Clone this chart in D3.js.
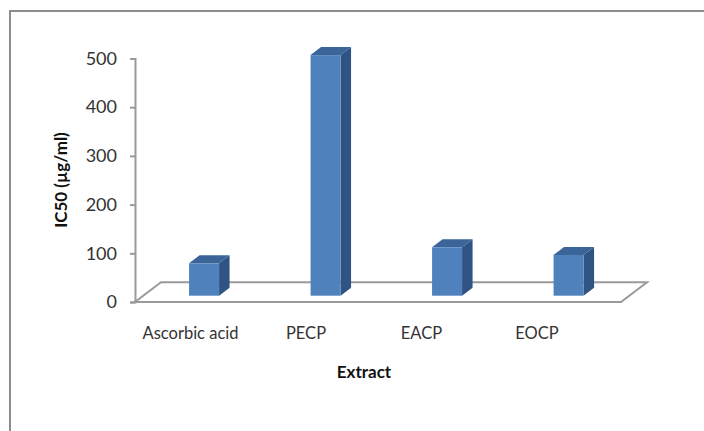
<!DOCTYPE html>
<html>
<head>
<meta charset="utf-8">
<script src="https://cdn.jsdelivr.net/npm/d3@7"></script>
<style>
  html, body { margin: 0; padding: 0; background: #fff; }
  svg { display: block; font-family: Lato, "Open Sans", sans-serif; }
</style>
</head>
<body>
<svg id="chart" width="704" height="431"></svg>
<script>
// IC50 values per extract
const categories = ["Ascorbic acid", "PECP", "EACP", "EOCP"];
const ic50 = [66.5, 494, 99.4, 83.6];
const yTicks = [0, 100, 200, 300, 400, 500];

const svg = d3.select("#chart");

// chart frame
svg.append("rect")
  .attr("x", 10).attr("y", 11)
  .attr("width", 720).attr("height", 440)
  .attr("fill", "none").attr("stroke", "#8c8c8c").attr("stroke-width", 2);

// plot geometry (front plane of the floor and oblique depth)
const plotLeft = 135, plotRight = 621, plotBase = 302, plotTop = 58.5;
const depthX = 26, depthY = 19.7;     // floor depth offset
const barDepth = 0.32;                // bars sit this far back on the floor
const sideX = 10.5, sideY = 8;        // bar thickness offset

const x = d3.scaleBand().domain(categories).range([plotLeft, plotRight]);
const y = d3.scaleLinear().domain([0, 500]).range([plotBase, plotTop]);
const labelX = d3.scalePoint().domain(categories).range([190.5, 537]);

// floor
const floorPts = [[plotLeft, plotBase], [plotRight, plotBase],
  [plotRight + depthX, plotBase - depthY], [plotLeft + depthX, plotBase - depthY]];
svg.append("polygon")
  .attr("points", floorPts.map(p => p.join(",")).join(" "))
  .attr("fill", "none").attr("stroke", "#9a9a9a").attr("stroke-width", 2);

// value axis
const yAxis = svg.append("g")
  .attr("transform", `translate(${plotLeft},0)`)
  .call(d3.axisLeft(y).tickValues(yTicks).tickSize(5).tickPadding(13).tickFormat(d3.format("d")));
yAxis.select(".domain").attr("stroke", "#9a9a9a").attr("stroke-width", 2);
yAxis.selectAll(".tick line").attr("stroke", "#9a9a9a").attr("stroke-width", 2);
yAxis.selectAll(".tick text")
  .attr("fill", "#333").attr("font-size", 18).attr("font-family", "Lato, sans-serif");

// bars
const offX = barDepth * depthX, offY = barDepth * depthY;
const barW = 30;
const bars = svg.append("g").selectAll("g").data(categories.map((c, i) => ({ c, v: ic50[i] })))
  .join("g");
bars.each(function(d) {
  const g = d3.select(this);
  const x0 = x(d.c) + x.bandwidth() / 2 - barW / 2 + offX;
  const x1 = x0 + barW;
  const yb = y(0) - offY;
  const yt = y(d.v) - offY;
  // side face
  g.append("polygon")
    .attr("points", [[x1, yb], [x1 + sideX, yb - sideY], [x1 + sideX, yt - sideY], [x1, yt]].map(p => p.join(",")).join(" "))
    .attr("fill", "#2f5383");
  // top face
  g.append("polygon")
    .attr("points", [[x0, yt], [x1, yt], [x1 + sideX, yt - sideY], [x0 + sideX, yt - sideY]].map(p => p.join(",")).join(" "))
    .attr("fill", "#3b6498");
  // front face
  g.append("rect")
    .attr("x", x0).attr("y", yt).attr("width", barW).attr("height", yb - yt)
    .attr("fill", "#4f81bd");
});

// category labels
svg.append("g").selectAll("text").data(categories).join("text")
  .attr("x", d => labelX(d)).attr("y", 339)
  .attr("text-anchor", "middle")
  .attr("font-size", 16.5).attr("fill", "#333")
  .text(d => d);

// axis titles
svg.append("text")
  .attr("x", 364).attr("y", 378)
  .attr("text-anchor", "middle").attr("font-size", 17).attr("font-weight", "bold").attr("fill", "#111")
  .text("Extract");
svg.append("text")
  .attr("transform", "translate(67,180) rotate(-90)")
  .attr("text-anchor", "middle").attr("font-size", 17).attr("font-weight", "bold").attr("fill", "#111")
  .text("IC50 (µg/ml)");
</script>
</body>
</html>
